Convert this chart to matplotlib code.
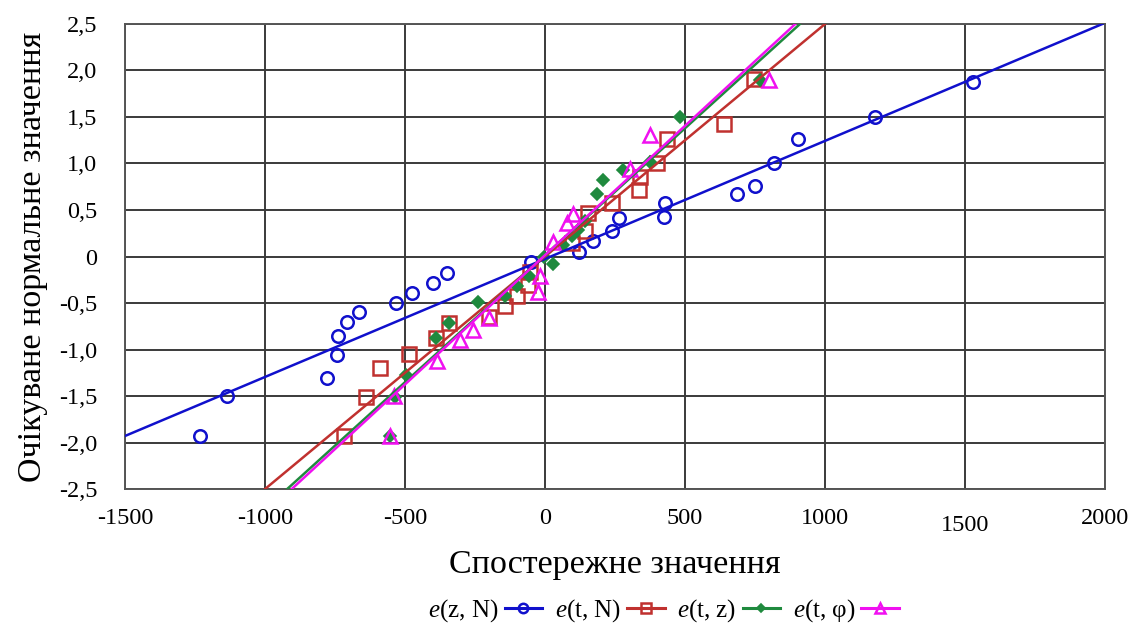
import numpy as np
import matplotlib
matplotlib.use("Agg")
import matplotlib.pyplot as plt

plt.rcParams['font.family'] = ['Liberation Serif', 'DejaVu Serif']
plt.rcParams['mathtext.fontset'] = 'custom'
plt.rcParams['mathtext.it'] = 'Liberation Serif:italic'
plt.rcParams['mathtext.rm'] = 'Liberation Serif'
plt.rcParams['axes.unicode_minus'] = False

# ---- data ----
zN_x = [-1232, -1136, -778, -743, -739, -707, -664, -532, -475, -400, -350, -50,
        121, 171, 239, 263, 425, 430, 684, 750, 818, 905, 1178, 1528]
zN_y = [-1.93, -1.50, -1.31, -1.06, -0.85, -0.70, -0.60, -0.50, -0.39, -0.28, -0.18, -0.06,
        0.05, 0.17, 0.27, 0.41, 0.43, 0.58, 0.67, 0.76, 1.00, 1.26, 1.50, 1.88]

tN_x = [-718, -640, -588, -485, -389, -343, -200, -143, -100, -60, -55, 96,
        143, 152, 239, 335, 340, 400, 436, 639, 746]
tN_y = [-1.93, -1.51, -1.20, -1.05, -0.88, -0.72, -0.65, -0.53, -0.43, -0.31, -0.17, 0.15,
        0.27, 0.47, 0.58, 0.71, 0.86, 1.01, 1.26, 1.42, 1.91]

tz_x = [-553, -536, -496, -389, -343, -239, -143, -100, -57, -5, 29, 64,
        96, 118, 143, 186, 207, 279, 375, 482, 768]
tz_y = [-1.93, -1.51, -1.27, -0.88, -0.72, -0.49, -0.43, -0.32, -0.21, 0.0, -0.08, 0.12,
        0.22, 0.29, 0.38, 0.67, 0.82, 0.93, 1.02, 1.50, 1.90]

tf_x = [-555, -540, -386, -304, -258, -200, -25, -18, 29, 79, 100, 304, 375, 800]
tf_y = [-1.93, -1.50, -1.12, -0.90, -0.79, -0.66, -0.38, -0.21, 0.16, 0.36, 0.46, 0.94, 1.31, 1.90]

# trend lines: (slope, intercept)
trend_zN = (0.001269, -0.026)
trend_tN = (0.00250, 0.0)
trend_tz = (0.00273, 0.014)
trend_tf = (0.00278, 0.015)

labels = [r"$\mathit{e}$(z, N)", r"$\mathit{e}$(t, N)", r"$\mathit{e}$(t, z)", r"$\mathit{e}$(t, φ)"]
xticks = [-1500, -1000, -500, 0, 500, 1000, 1500, 2000]
xtick_labels = ["-1500", "-1000", "-500", "0", "500", "1000", "1500", "2000"]
yticks = [-2.5, -2.0, -1.5, -1.0, -0.5, 0, 0.5, 1.0, 1.5, 2.0, 2.5]
ytick_labels = ["-2,5", "-2,0", "-1,5", "-1,0", "-0,5", "0", "0,5", "1,0", "1,5", "2,0", "2,5"]

# ---- plot ----
fig = plt.figure(figsize=(11.44, 6.28), dpi=100)
ax = fig.add_axes([0.1093, 0.2213, 0.8566, 0.7405])
xlim = (-1500, 2000)
ylim = (-2.5, 2.5)
ax.set_xlim(*xlim)
ax.set_ylim(*ylim)

def trend(m, b):
    xa = (ylim[0] - b) / m
    xb = (ylim[1] - b) / m
    x0 = max(xlim[0], xa)
    x1 = min(xlim[1], xb)
    xs = np.array([x0, x1])
    return xs, m * xs + b

c_blue = '#1010CC'
c_red = '#C0312F'
c_green = '#1F8A3E'
c_mag = '#F010F0'

series = [
    (zN_x, zN_y, trend_zN, c_blue, 'o', dict(ms=9, mfc='none', mew=1.8)),
    (tN_x, tN_y, trend_tN, c_red, 's', dict(ms=10, mfc='none', mew=1.8)),
    (tz_x, tz_y, trend_tz, c_green, 'D', dict(ms=6, mfc=c_green, mew=1.2)),
    (tf_x, tf_y, trend_tf, c_mag, '^', dict(ms=10, mfc='none', mew=1.8)),
]

handles = []
for (xs, ys, (m, b), col, mk, kw), lab in zip(series, labels):
    ax.plot(xs, ys, linestyle='none', marker=mk, color=col, zorder=3, **kw)
    tx, ty = trend(m, b)
    ax.plot(tx, ty, color=col, lw=1.8, zorder=4)
    h, = ax.plot([], [], color=col, lw=2.2, marker=mk,
                 **{k: v for k, v in kw.items() if k != 'ms'}, ms=kw['ms'] * 0.75)
    handles.append(h)

ax.set_xticks(xticks)
ax.set_xticklabels(xtick_labels)
ax.set_yticks(yticks)
ax.set_yticklabels(ytick_labels)
ax.tick_params(length=0, labelsize=17.5)
ax.tick_params(axis='y', pad=20)
ax.tick_params(axis='x', pad=14)
# the "1500" label sits a bit lower in the reference
ax.xaxis.get_major_ticks()[6].label1.set_y(-0.013)
ax.grid(True, color='#3a3a3a', lw=1.4)
for s in ax.spines.values():
    s.set_color('#555555')
    s.set_linewidth(1.4)
ax.set_axisbelow(True)

ax.set_xlabel("Спостережне значення", fontsize=24.5, labelpad=10)
ax.set_ylabel("Очікуване нормальне значення", fontsize=24.5, labelpad=8)

leg = fig.legend(handles=handles, labels=labels, loc='center', bbox_to_anchor=(0.58, 0.028),
                 ncol=4, frameon=False, markerfirst=False, fontsize=18, handlelength=1.5,
                 columnspacing=0.5, handletextpad=0.25, borderpad=0, borderaxespad=0)

fig.savefig("out.png", dpi=100)
